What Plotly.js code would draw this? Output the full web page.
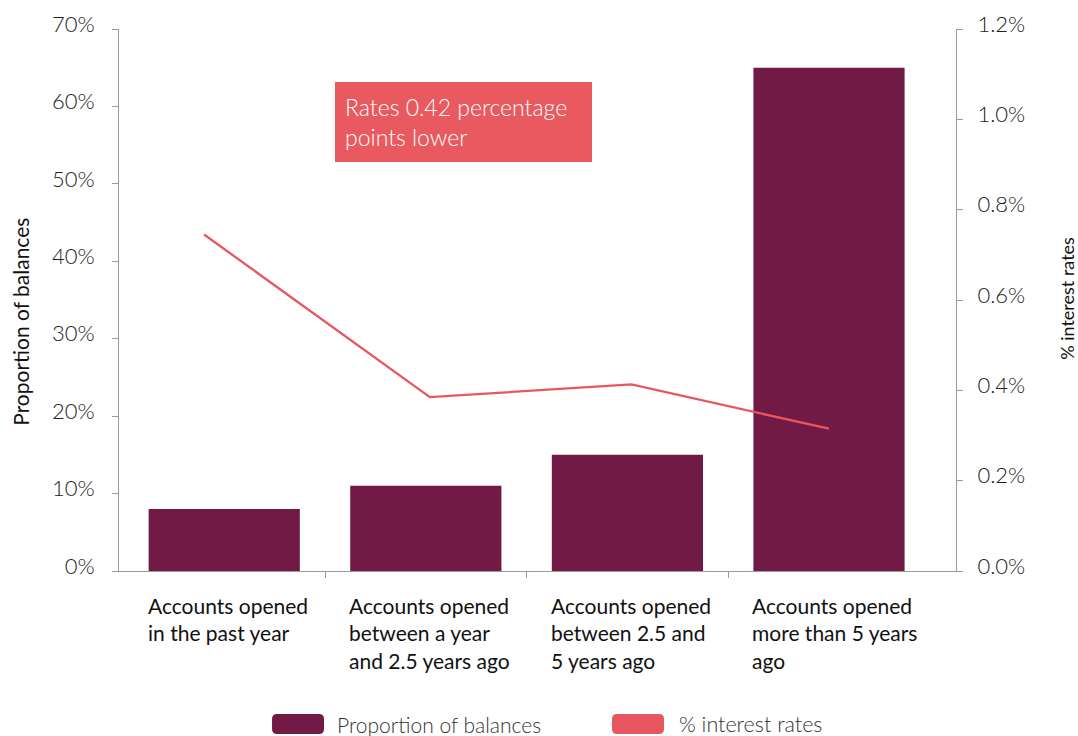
<!DOCTYPE html>
<html>
<head>
<meta charset="utf-8">
<script src="https://cdn.plot.ly/plotly-3.0.1.min.js"></script>
<style>
  html, body { margin: 0; padding: 0; background: #ffffff; }
  #chart { width: 1078px; height: 736px; }
</style>
</head>
<body>
<div id="chart"></div>
<script>
// ---- data ----
const categories = [
  "Accounts opened<br>in the past year",
  "Accounts opened<br>between a year<br>and 2.5 years ago",
  "Accounts opened<br>between 2.5 and<br>5 years ago",
  "Accounts opened<br>more than 5 years<br>ago"
];
const balanceShare = [8, 11, 15, 65];          // % of balances (left axis)
const interestRate = [0.745, 0.385, 0.413, 0.315]; // % interest rate (right axis)
const ratePos = [-0.1, 1.02, 2.02, 3.0];        // line point positions
const seriesNames = ["Proportion of balances", "% interest rates"];
const leftTicks = [0, 10, 20, 30, 40, 50, 60, 70];
const rightTicks = [0, 0.2, 0.4, 0.6, 0.8, 1.0, 1.2];
const calloutText = "Rates 0.42 percentage<br>points lower";
const yTitleLeft = "Proportion of balances";
const yTitleRight = "% interest rates";

// ---- styles ----
const barColor = "#711A45";
const lineColor = "#E8575F";
const boxColor = "#E95A60";
const axisColor = "#9a9a9a";
const fontFam = "Lato, 'Open Sans', sans-serif";

const catPos = categories.map((c, i) => i);
const sepPos = categories.slice(1).map((c, i) => i + 0.5);
const xRange = [-0.522, 3.63];

const traces = [
  {
    type: "bar",
    x: catPos,
    y: balanceShare,
    width: 0.75,
    marker: { color: barColor },
    name: seriesNames[0],
    xaxis: "x",
    yaxis: "y",
    hoverinfo: "skip"
  },
  {
    type: "scatter",
    mode: "lines",
    x: ratePos,
    y: interestRate,
    line: { color: lineColor, width: 2.3 },
    name: seriesNames[1],
    xaxis: "x",
    yaxis: "y2",
    hoverinfo: "skip"
  }
];

const tickFont = { family: fontFam, size: 22, color: "#222222", weight: 300 };

const annotations = [];
categories.forEach((c, i) => {
  annotations.push({
    xref: "x", yref: "paper",
    x: i - 0.39, y: -0.036,
    xanchor: "left", yanchor: "top",
    align: "left",
    text: c,
    showarrow: false,
    font: { family: fontFam, size: 21, color: "#111111" }
  });
});
annotations.push({
  xref: "paper", yref: "paper",
  x: 0.4116, y: 0.8284,
  xanchor: "center", yanchor: "middle",
  text: calloutText,
  showarrow: false,
  align: "left",
  valign: "middle",
  width: 237, height: 60,
  borderpad: 10, borderwidth: 0,
  bgcolor: boxColor,
  font: { family: fontFam, size: 23, color: "#ffffff", weight: 300 }
});
annotations.push({
  xref: "paper", yref: "paper",
  x: -0.117, y: 0.46,
  xanchor: "center", yanchor: "middle",
  text: yTitleLeft, textangle: -90, showarrow: false,
  font: { family: fontFam, size: 21, color: "#111111" }
});
annotations.push({
  xref: "paper", yref: "paper",
  x: 1.1326, y: 0.504,
  xanchor: "center", yanchor: "middle",
  text: yTitleRight, textangle: -90, showarrow: false,
  font: { family: fontFam, size: 18, color: "#111111" }
});
// legend labels
const legendTextX = [0.258, 0.6667];
const legendSwatchX = [0.2139, 0.6201];
const legendColors = [barColor, lineColor];
const legendSizes = [21, 21.5];
seriesNames.forEach((n, i) => {
  annotations.push({
    xref: "paper", yref: "paper",
    x: legendTextX[i], y: -0.2823,
    xanchor: "left", yanchor: "middle",
    text: n, showarrow: false,
    font: { family: fontFam, size: legendSizes[i], color: "#333333", weight: 300 }
  });
});
const rr = "M -21,-10 L 21,-10 Q 26,-10 26,-5 L 26,5 Q 26,10 21,10 L -21,10 Q -26,10 -26,5 L -26,-5 Q -26,-10 -21,-10 Z";
const shapes = seriesNames.map((n, i) => ({
  type: "path",
  xref: "paper", yref: "paper",
  xsizemode: "pixel", ysizemode: "pixel",
  xanchor: legendSwatchX[i], yanchor: -0.2823,
  path: rr,
  fillcolor: legendColors[i],
  line: { width: 0 }
}));

const layout = {
  width: 1078,
  height: 736,
  margin: { l: 119, r: 122, t: 29, b: 165 },
  paper_bgcolor: "#ffffff",
  plot_bgcolor: "#ffffff",
  showlegend: false,
  font: { family: fontFam },
  xaxis: {
    type: "linear",
    range: xRange,
    tickmode: "array",
    tickvals: sepPos,
    showticklabels: false,
    ticks: "outside", ticklen: 6, tickcolor: axisColor, tickwidth: 1,
    showline: true, linecolor: axisColor, linewidth: 1,
    showgrid: false, zeroline: false, fixedrange: true
  },
  xaxis2: {
    overlaying: "x", anchor: "y",
    type: "linear",
    range: xRange,
    tickmode: "array",
    tickvals: sepPos,
    showticklabels: false,
    ticks: "inside", ticklen: 8, tickcolor: axisColor, tickwidth: 1,
    showline: false, showgrid: false, zeroline: false, fixedrange: true
  },
  yaxis: {
    range: [0, 70],
    tickmode: "array",
    tickvals: leftTicks,
    ticktext: leftTicks.map(v => v + "%"),
    ticks: "outside", ticklen: 6, tickcolor: axisColor, tickwidth: 1,
    tickfont: tickFont,
    ticklabelstandoff: 13,
    ticklabelshift: -5,
    showline: true, linecolor: axisColor, linewidth: 1,
    showgrid: false, zeroline: false, fixedrange: true
  },
  yaxis3: {
    overlaying: "y", side: "left", anchor: "x",
    range: [0, 70],
    tickmode: "array",
    tickvals: leftTicks,
    showticklabels: false,
    ticks: "inside", ticklen: 5, tickcolor: axisColor, tickwidth: 1,
    showline: false, showgrid: false, zeroline: false, fixedrange: true
  },
  yaxis2: {
    overlaying: "y", side: "right", anchor: "x",
    range: [0, 1.2],
    tickmode: "array",
    tickvals: rightTicks,
    ticktext: rightTicks.map(v => v.toFixed(1) + "%"),
    ticks: "outside", ticklen: 6, tickcolor: axisColor, tickwidth: 1,
    tickfont: tickFont,
    ticklabelstandoff: 10,
    ticklabelshift: -5,
    showline: true, linecolor: axisColor, linewidth: 1,
    showgrid: false, zeroline: false, fixedrange: true
  },
  yaxis4: {
    overlaying: "y", side: "right", anchor: "x",
    range: [0, 1.2],
    tickmode: "array",
    tickvals: rightTicks,
    showticklabels: false,
    ticks: "inside", ticklen: 6, tickcolor: axisColor, tickwidth: 1,
    showline: false, showgrid: false, zeroline: false, fixedrange: true
  },
  annotations: annotations,
  shapes: shapes
};

Plotly.newPlot("chart", traces, layout, { displayModeBar: false, staticPlot: true });
</script>
</body>
</html>
